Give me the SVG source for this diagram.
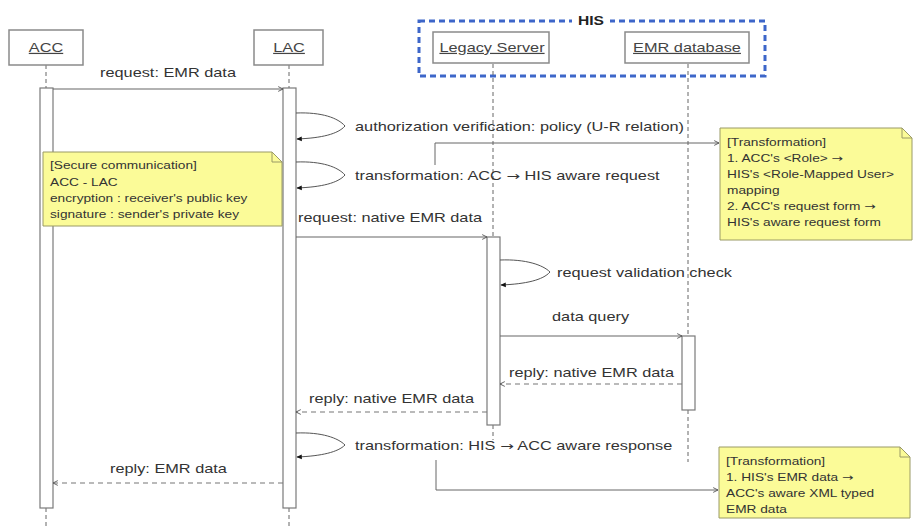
<svg xmlns="http://www.w3.org/2000/svg" width="916" height="527" viewBox="0 0 916 527">
<style>
.lbl{font-family:"Liberation Sans",Arial,sans-serif;font-size:12px;fill:#333}
.hdr{font-family:"Liberation Sans",Arial,sans-serif;font-size:12px;fill:#444;text-anchor:middle;text-decoration:underline}
.his{font-family:"Liberation Sans",Arial,sans-serif;font-size:12px;font-weight:bold;fill:#222;text-anchor:middle}
.nt{font-family:"Liberation Sans",Arial,sans-serif;font-size:10px;fill:#333}
.ar{font-family:"DejaVu Sans",sans-serif}
.box{fill:#fff;stroke:#8a8a8a;stroke-width:1.5}
.life{stroke:#666;stroke-width:1;stroke-dasharray:4 3;fill:none}
.bar{fill:#fff;stroke:#7a7a7a;stroke-width:1.2}
.msg{stroke:#666;stroke-width:1.2;fill:none;marker-end:url(#open)}
.rep{stroke:#777;stroke-width:1.2;fill:none;stroke-dasharray:5 4;marker-end:url(#open)}
.self{stroke:#555;stroke-width:1;fill:none;marker-end:url(#dot)}
.note{fill:#fbfb98;stroke:#9a9a66;stroke-width:1}
.nlink{stroke:#666;stroke-width:1;fill:none;marker-end:url(#open)}
</style>
<defs>
<marker id="open" viewBox="0 0 10 10" refX="9" refY="5" markerWidth="6" markerHeight="6" orient="auto" markerUnits="userSpaceOnUse">
<path d="M1,1 L9,5 L1,9" fill="none" stroke="#555" stroke-width="1.5"/>
</marker>
<marker id="dot" viewBox="0 0 10 10" refX="8" refY="5" markerWidth="6" markerHeight="6" orient="auto" markerUnits="userSpaceOnUse">
<path d="M0,1 L9,5 L0,9 z" fill="#111"/>
</marker>
</defs>
<rect width="916" height="527" fill="#fff"/>

<g id="his-frame">
<rect x="419" y="21" width="346" height="55" fill="none" stroke="#3d66c9" stroke-width="3" stroke-dasharray="6 4"/>
<rect x="572" y="12" width="38" height="16" fill="#fff"/>
<text class="his" transform="matrix(1.3,0,0,1,591,25)">HIS</text>
</g>

<g id="lifelines">
<line class="life" x1="46" y1="65" x2="46" y2="88"/>
<line class="life" x1="46" y1="508" x2="46" y2="527"/>
<line class="life" x1="289" y1="65" x2="289" y2="88"/>
<line class="life" x1="289" y1="508" x2="289" y2="527"/>
<line class="life" x1="493" y1="64" x2="493" y2="237"/>
<line class="life" x1="493" y1="425" x2="493" y2="440"/>
<line class="life" x1="688" y1="64" x2="688" y2="336"/>
<line class="life" x1="688" y1="410" x2="688" y2="462"/>
</g>

<g id="ACC">
<rect class="box" x="9" y="30" width="74" height="35"/>
<text class="hdr" transform="matrix(1.36,0,0,1,46,52)">ACC</text>
<rect class="bar" x="40" y="88" width="13" height="420"/>
</g>
<g id="LAC">
<rect class="box" x="254" y="30" width="69" height="35"/>
<text class="hdr" transform="matrix(1.36,0,0,1,289,52)">LAC</text>
<rect class="bar" x="283" y="88" width="13" height="420"/>
</g>
<g id="LegacyServer">
<rect class="box" x="433" y="32" width="116" height="31"/>
<text class="hdr" transform="matrix(1.36,0,0,1,492,52)">Legacy Server</text>
<rect class="bar" x="487" y="237" width="13" height="188"/>
</g>
<g id="EMRdatabase">
<rect class="box" x="625" y="32" width="124" height="31"/>
<text class="hdr" transform="matrix(1.36,0,0,1,687,52)">EMR database</text>
<rect class="bar" x="682" y="336" width="13" height="74"/>
</g>

<g id="note-secure">
<path class="note" d="M43,152 H272 L282,162 V226 H43 Z"/>
<path d="M272,152 V162 H282" fill="none" stroke="#9a9a66"/>
<text class="nt" transform="matrix(1.37,0,0,1,50,169)">[Secure communication]</text>
<text class="nt" transform="matrix(1.37,0,0,1,50,186)">ACC - LAC</text>
<text class="nt" transform="matrix(1.37,0,0,1,50,202)">encryption : receiver's public key</text>
<text class="nt" transform="matrix(1.37,0,0,1,50,218)">signature : sender's private key</text>
</g>

<g id="note-transform-request">
<path class="note" d="M720,128 H902 L912,138 V240 H720 Z"/>
<path d="M902,128 V138 H912" fill="none" stroke="#9a9a66"/>
<text class="nt" transform="matrix(1.37,0,0,1,727,146)">[Transformation]</text>
<text class="nt" transform="matrix(1.37,0,0,1,727,162)">1. ACC's &lt;Role&gt; <tspan class="ar">→</tspan></text>
<text class="nt" transform="matrix(1.37,0,0,1,727,178)">HIS's &lt;Role-Mapped User&gt;</text>
<text class="nt" transform="matrix(1.37,0,0,1,727,194)">mapping</text>
<text class="nt" transform="matrix(1.37,0,0,1,727,210)">2. ACC's request form <tspan class="ar">→</tspan></text>
<text class="nt" transform="matrix(1.37,0,0,1,727,226)">HIS's aware request form</text>
</g>

<g id="note-transform-response">
<path class="note" d="M719,447 H900 L910,457 V518 H719 Z"/>
<path d="M900,447 V457 H910" fill="none" stroke="#9a9a66"/>
<text class="nt" transform="matrix(1.37,0,0,1,726,465)">[Transformation]</text>
<text class="nt" transform="matrix(1.37,0,0,1,726,481)">1. HIS's EMR data <tspan class="ar">→</tspan></text>
<text class="nt" transform="matrix(1.37,0,0,1,726,497)">ACC's aware XML typed</text>
<text class="nt" transform="matrix(1.37,0,0,1,726,513)">EMR data</text>
</g>

<g id="connectors">
<line class="msg" x1="53" y1="89" x2="283" y2="89"/>
<text class="lbl" transform="matrix(1.36,0,0,1,100,77)">request: EMR data</text>

<path class="self" d="M296,113 C322,112 338,118 345,126 C338,134 322,138 297,139"/>
<text class="lbl" transform="matrix(1.36,0,0,1,355,131)">authorization verification: policy (U-R relation)</text>

<path class="self" d="M296,162 C322,161 338,167 345,175 C338,183 322,187 297,188"/>
<text class="lbl" transform="matrix(1.36,0,0,1,355,180)">transformation: ACC <tspan class="ar">→</tspan> HIS aware request</text>

<path class="nlink" d="M435,165 V143 H719"/>

<line class="msg" x1="296" y1="237" x2="487" y2="237"/>
<text class="lbl" transform="matrix(1.36,0,0,1,298,222)">request: native EMR data</text>

<path class="self" d="M500,260 C526,259 543,265 550,272 C543,280 526,284 501,285"/>
<text class="lbl" transform="matrix(1.36,0,0,1,557,277)">request validation check</text>

<line class="msg" x1="500" y1="336" x2="682" y2="336"/>
<text class="lbl" transform="matrix(1.36,0,0,1,552,321)">data query</text>

<line class="rep" x1="682" y1="384" x2="500" y2="384"/>
<text class="lbl" transform="matrix(1.36,0,0,1,509,377)">reply: native EMR data</text>

<line class="rep" x1="487" y1="412" x2="296" y2="412"/>
<text class="lbl" transform="matrix(1.36,0,0,1,309,403)">reply: native EMR data</text>

<path class="self" d="M296,433 C322,432 338,438 345,445 C338,452 322,456 297,457"/>
<text class="lbl" transform="matrix(1.36,0,0,1,355,450)">transformation: HIS <tspan class="ar">→</tspan> ACC aware response</text>

<path class="nlink" d="M436,460 V490 H718"/>

<line class="rep" x1="283" y1="483" x2="53" y2="483"/>
<text class="lbl" transform="matrix(1.36,0,0,1,110,473)">reply: EMR data</text>
</g>
</svg>
